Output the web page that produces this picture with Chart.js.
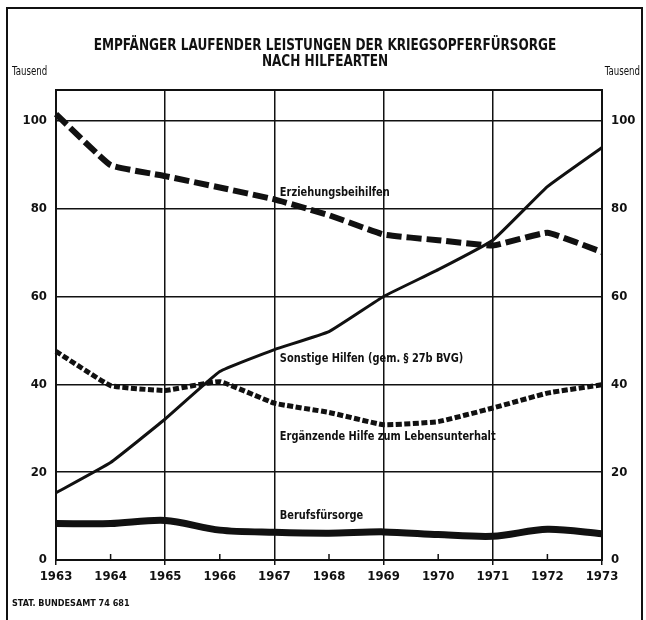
<!DOCTYPE html>
<html lang="de">
<head>
<meta charset="utf-8">
<title>Kriegsopferfürsorge</title>
<script src="https://cdn.jsdelivr.net/npm/chart.js@4/dist/chart.umd.min.js"></script>
<style>
  html, body { margin: 0; padding: 0; background: #fff; }
  canvas { display: block; }
</style>
</head>
<body>
<canvas id="chart" width="646" height="620"></canvas>
<script>
'use strict';
// Empfänger in Tausend, 1963 bis 1973
const years = ['1963', '1964', '1965', '1966', '1967', '1968', '1969', '1970', '1971', '1972', '1973'];
const erziehung = [101.5, 89.9, 87.4, 84.8, 82.1, 78.5, 74.1, 72.8, 71.6, 74.5, 70.1];
const sonstige = [15.3, 22.2, 32.1, 42.9, 47.9, 52.0, 60.0, 66.1, 72.8, 85.0, 93.9];
const ergaenzend = [47.5, 39.7, 38.6, 40.6, 35.7, 33.6, 30.8, 31.5, 34.6, 38.0, 39.9];
const beruf = [8.3, 8.3, 9.0, 6.8, 6.3, 6.1, 6.4, 5.8, 5.4, 7.0, 6.0];
const yTicks = [0, 20, 40, 60, 80, 100];

const ink = '#111';
const narrow = '"DejaVu Sans Condensed", "Liberation Sans Narrow", sans-serif';

// text labels next to the curves: [text, year offset, value]
const curveLabels = [
  ['Erziehungsbeihilfen', 4.1, 83.7],
  ['Sonstige Hilfen (gem. § 27b BVG)', 4.1, 45.8],
  ['Ergänzende Hilfe zum Lebensunterhalt', 4.1, 28.0],
  ['Berufsfürsorge', 4.1, 10.0]
];

// squeezed text, the typeface of the chart is narrower than anything installed
function squeezed(ctx, text, x, y, align, font, sx) {
  ctx.save();
  ctx.font = font;
  ctx.textBaseline = 'middle';
  ctx.textAlign = 'left';
  const w = ctx.measureText(text).width * sx;
  let left = x;
  if (align === 'center') left = x - w / 2;
  if (align === 'right') left = x - w;
  ctx.translate(left, y);
  ctx.scale(sx, 1);
  ctx.fillText(text, 0, 0);
  ctx.restore();
}

const extras = {
  id: 'extras',
  afterDraw(chart) {
    const ctx = chart.ctx;
    const area = chart.chartArea;
    const x = chart.scales.x;
    const y = chart.scales.y;
    ctx.save();
    ctx.strokeStyle = ink;
    ctx.fillStyle = ink;

    // top edge of the plot
    ctx.lineWidth = 2;
    ctx.beginPath();
    ctx.moveTo(area.left, area.top);
    ctx.lineTo(area.right, area.top);
    ctx.stroke();

    // small inner ticks for the even years
    ctx.lineWidth = 1.5;
    for (let i = 1; i < years.length; i += 2) {
      const px = x.getPixelForValue(i);
      ctx.beginPath();
      ctx.moveTo(px, area.bottom);
      ctx.lineTo(px, area.bottom - 6);
      ctx.stroke();
    }

    // heading
    const cx = (area.left + area.right) / 2 - 4;
    squeezed(ctx, 'EMPFÄNGER LAUFENDER LEISTUNGEN DER KRIEGSOPFERFÜRSORGE', cx, 46, 'center', 'bold 16px ' + narrow, 0.84);
    squeezed(ctx, 'NACH HILFEARTEN', cx, 62, 'center', 'bold 16px ' + narrow, 0.84);

    // curve names
    const step = x.getPixelForValue(1) - x.getPixelForValue(0);
    curveLabels.forEach(function (l) {
      squeezed(ctx, l[0], area.left + step * l[1], y.getPixelForValue(l[2]), 'left', 'bold 13px ' + narrow, 0.84);
    });

    // unit labels
    squeezed(ctx, 'Tausend', 12, 72, 'left', '12px ' + narrow, 0.8);
    squeezed(ctx, 'Tausend', 640, 72, 'right', '12px ' + narrow, 0.8);

    // source line
    squeezed(ctx, 'STAT. BUNDESAMT 74 681', 12, 604, 'left', 'bold 9px ' + narrow, 1);

    // outer frame
    ctx.lineWidth = 2;
    ctx.beginPath();
    ctx.moveTo(7, 640);
    ctx.lineTo(7, 8);
    ctx.lineTo(642, 8);
    ctx.lineTo(642, 640);
    ctx.stroke();
    ctx.restore();
  }
};

const tickFont = { family: narrow, size: 13, weight: 'bold' };

const ctx = document.getElementById('chart').getContext('2d');
const chart = new Chart(ctx, {
  type: 'line',
  data: {
    labels: years,
    datasets: [
      {
        label: 'Erziehungsbeihilfen',
        data: erziehung,
        borderColor: ink,
        borderWidth: 6,
        borderDash: [15, 5],
        pointRadius: 0,
        tension: 0.1
      },
      {
        label: 'Sonstige Hilfen (gem. § 27b BVG)',
        data: sonstige,
        borderColor: ink,
        borderWidth: 3,
        pointRadius: 0,
        tension: 0.1
      },
      {
        label: 'Ergänzende Hilfe zum Lebensunterhalt',
        data: ergaenzend,
        borderColor: ink,
        borderWidth: 5,
        borderDash: [6, 2.5],
        pointRadius: 0,
        tension: 0.1
      },
      {
        label: 'Berufsfürsorge',
        data: beruf,
        borderColor: ink,
        borderWidth: 7,
        pointRadius: 0,
        tension: 0.3
      }
    ]
  },
  options: {
    responsive: false,
    animation: false,
    devicePixelRatio: 1,
    layout: { padding: { top: 90 } },
    plugins: {
      legend: { display: false },
      tooltip: { enabled: false },
      title: { display: false }
    },
    scales: {
      x: {
        type: 'category',
        offset: false,
        grid: {
          color: c => (c.index % 2 === 0 ? ink : 'rgba(0,0,0,0)'),
          lineWidth: 1.5,
          tickLength: 5
        },
        border: { color: ink, width: 2 },
        ticks: { color: ink, font: tickFont, padding: 4, maxRotation: 0, autoSkip: false },
        afterFit: s => { s.height = 60; }
      },
      y: {
        position: 'left',
        min: 0,
        max: 107,
        grid: { color: ink, lineWidth: 1.5, drawTicks: false },
        border: { color: ink, width: 2 },
        ticks: {
          stepSize: 20,
          color: ink,
          font: tickFont,
          padding: 9,
          callback: v => (yTicks.includes(v) ? v : '')
        },
        afterFit: s => { s.width = 56; }
      },
      y2: {
        position: 'right',
        min: 0,
        max: 107,
        grid: { drawOnChartArea: false, drawTicks: false },
        border: { color: ink, width: 2 },
        ticks: {
          stepSize: 20,
          color: ink,
          font: tickFont,
          padding: 9,
          callback: v => (yTicks.includes(v) ? v : '')
        },
        afterFit: s => { s.width = 44; }
      }
    }
  },
  plugins: [extras]
});
</script>
</body>
</html>
